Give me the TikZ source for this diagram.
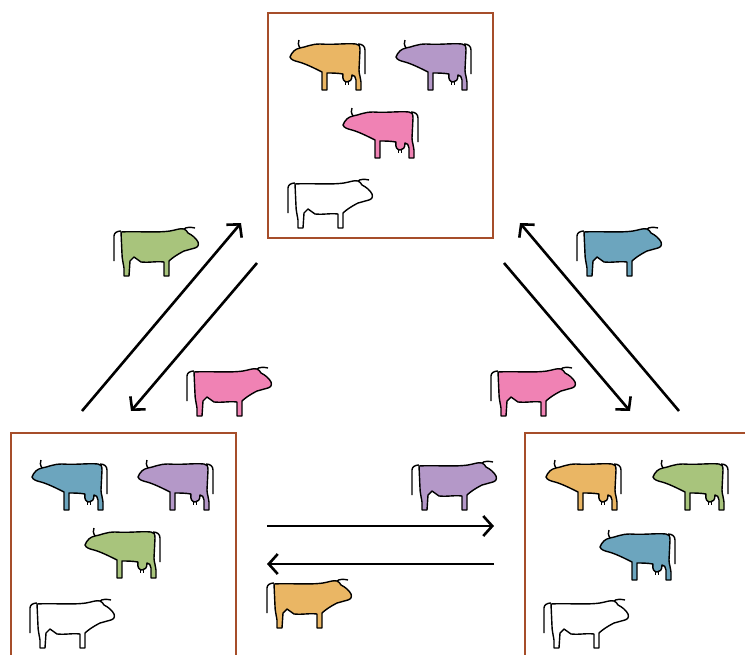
\documentclass[tikz,border=0pt]{standalone}
\usetikzlibrary{arrows.meta}

\definecolor{herdbrown}{RGB}{166,78,42}
\definecolor{cowOrange}{RGB}{234,182,100}
\definecolor{cowPurple}{RGB}{180,152,200}
\definecolor{cowPink}{RGB}{240,130,180}
\definecolor{cowGreen}{RGB}{168,196,124}
\definecolor{cowBlue}{RGB}{108,165,190}

\tikzset{
  herd/.style={draw=herdbrown, line width=2.5pt, minimum size=225pt, inner sep=0pt},
  move/.style={line width=2.6pt, -{Straight Barb[length=9pt,width=20pt]}},
  % cow looking left, with udder
  pics/cow/.style={code={
    \filldraw[fill=#1, line width=1.4pt, line join=round]
      (0,17) .. controls (2,12) and (5,9) .. (10,8)
      .. controls (16,7) and (21,4) .. (30,4)
      .. controls (45,5) and (56,3) .. (66,4)
      .. controls (69,4) and (70,6) .. (70,10)
      -- (69,30) .. controls (69,35) and (71,38) .. (71,42)
      -- (71,50) -- (66,50) -- (66,40)
      .. controls (66,37) and (64,35) .. (62,35)
      .. controls (62,40) and (60,42) .. (57,42)
      .. controls (54,42) and (52,39) .. (53,34)
      .. controls (47,33) and (42,33) .. (37,33)
      -- (37,50) -- (32,50) -- (32,32)
      .. controls (24,28) and (16,24) .. (9,22)
      .. controls (5,21) and (1,20) .. (0,17) -- cycle;
    \draw[line width=1.4pt] (68,4) .. controls (72,4) and (75,6) .. (75,10) -- (75,34);
    \draw[line width=1.4pt] (10,8) .. controls (8,5) and (8,2) .. (9,0);
    \draw[line width=0.8pt] (55,42) -- (55,45) (58,42) -- (58,45);
  }},
  % bull looking right
  pics/bull/.style={code={
    \filldraw[fill=#1, line width=1.4pt, line join=round]
      (7,4) .. controls (22,3) and (42,5) .. (56,3)
      .. controls (62,2) and (66,0) .. (70,1)
      .. controls (72,2) and (73,3) .. (74,5)
      .. controls (78,7) and (82,10) .. (84,14)
      .. controls (85,17) and (84,19) .. (81,20)
      .. controls (77,21) and (74,22) .. (70,23)
      .. controls (64,26) and (58,30) .. (55,33)
      -- (55,48) -- (50,48) -- (50,34)
      .. controls (42,33) and (34,35) .. (27,34)
      -- (20,29) -- (16,33) -- (15,48) -- (10,48) -- (10,40)
      .. controls (9,34) and (8,30) .. (8,26) -- cycle;
    \draw[line width=1.4pt] (0,33) -- (0,8) .. controls (0,5) and (3,3) .. (7,3);
    \draw[line width=1.4pt] (70,1) .. controls (72,-1) and (77,-1) .. (81,0);
  }}
}

\begin{document}
\begin{tikzpicture}[x=1pt, y=-1pt]
    \clip (0,0) rectangle (745,654);

    % the three herds
    \node[herd] (herdTop) at (380.5,125.5) {};
    \node[herd] (herdLeft) at (123.5,545.5) {};
    \node[herd] (herdRight) at (637.5,545.5) {};

    \pic at (290,40) {cow=cowOrange};
    \pic at (396,40) {cow=cowPurple};
    \pic at (343,108) {cow=cowPink};
    \pic at (288,180) {bull=white};

    \pic at (32,460) {cow=cowBlue};
    \pic at (138,460) {cow=cowPurple};
    \pic at (85,528) {cow=cowGreen};
    \pic at (30,600) {bull=white};

    \pic at (546,460) {cow=cowOrange};
    \pic at (653,460) {cow=cowGreen};
    \pic at (600,530) {cow=cowBlue};
    \pic at (544,600) {bull=white};

    % ends of the exchange arrows
    \coordinate (leftUpS) at (82,411);
    \coordinate (leftUpE) at (241,223);
    \coordinate (leftDnS) at (257,263);
    \coordinate (leftDnE) at (131,411);
    \coordinate (rightUpS) at (679,411);
    \coordinate (rightUpE) at (520,223);
    \coordinate (rightDnS) at (504,263);
    \coordinate (rightDnE) at (630,411);
    \coordinate (lowToR) at (267,526);
    \coordinate (lowToRE) at (494,526);
    \coordinate (lowToL) at (494,564);
    \coordinate (lowToLE) at (267,564);

    \draw[move] (leftUpS) -- (leftUpE);
    \draw[move] (leftDnS) -- (leftDnE);
    \draw[move] (rightUpS) -- (rightUpE);
    \draw[move] (rightDnS) -- (rightDnE);
    \draw[move] (lowToR) -- (lowToRE);
    \draw[move] (lowToL) -- (lowToLE);

    % animals on the move
    \pic at (114,228) {bull=cowGreen};
    \pic at (577,228) {bull=cowBlue};
    \pic at (187,368) {bull=cowPink};
    \pic at (491,368) {bull=cowPink};
    \pic at (412,462) {bull=cowPurple};
    \pic at (267,580) {bull=cowOrange};
\end{tikzpicture}
\end{document}
